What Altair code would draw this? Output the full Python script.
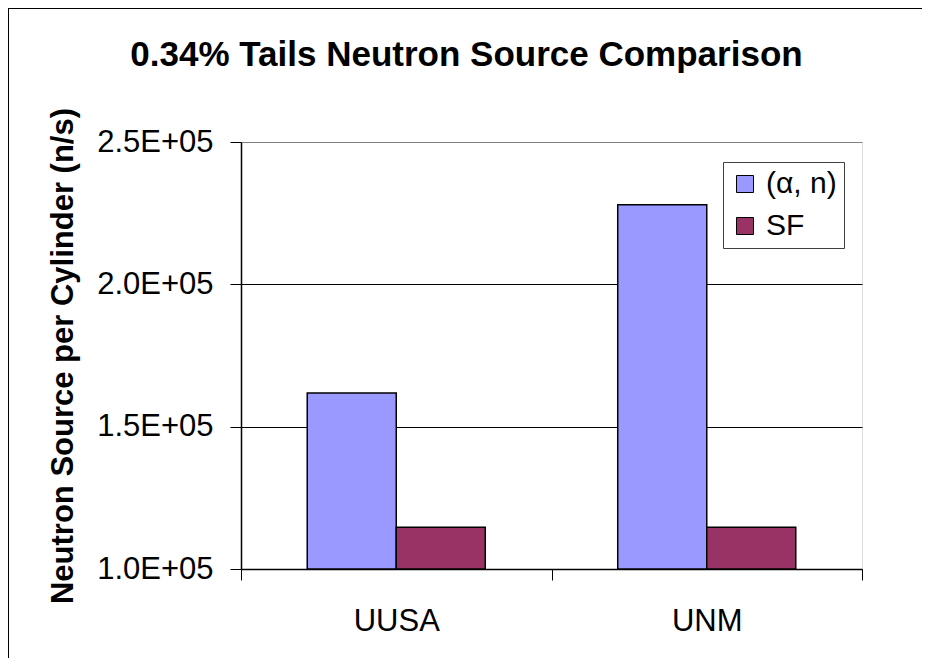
import altair as alt
import pandas as pd

sites = ["UUSA", "UNM"]
series = ["(α, n)", "SF"]
alpha_n = [161800, 228000]
sf = [114650, 114650]
colors = ["#9999FF", "#993366"]
y_ticks = [100000, 150000, 200000, 250000]

rows = []
for i, s in enumerate(sites):
    rows.append({"site": s, "series": series[0], "value": alpha_n[i]})
    rows.append({"site": s, "series": series[1], "value": sf[i]})
df = pd.DataFrame(rows)

FONT = "Liberation Sans"
W, H = 621, 427
PL, PT, PR, PB = 233, 134, 60, 89

bars = alt.Chart(df).mark_bar(stroke="black", strokeWidth=1.5).encode(
    x=alt.X(
        "site:N",
        sort=sites,
        scale=alt.Scale(paddingInner=0, paddingOuter=0),
        axis=alt.Axis(
            title=None, labelAngle=0, tickBand="extent", labelFontSize=31,
            labelFont=FONT, labelColor="black", labelPadding=26, tickSize=11,
            tickColor="black", domainColor="black", domainWidth=1.5, grid=False,
        ),
    ),
    xOffset=alt.XOffset(
        "series:N", sort=series,
        scale=alt.Scale(paddingInner=0, paddingOuter=0.744),
    ),
    y=alt.Y(
        "value:Q",
        scale=alt.Scale(domain=[100000, 250000], nice=False, zero=False),
        axis=alt.Axis(
            values=y_ticks,
            labelExpr="format(datum.value / 100000, '.1f') + 'E+05'",
            title="Neutron Source per Cylinder (n/s)",
            titleFont=FONT, titleFontSize=31, titleFontWeight="bold",
            titleColor="black", titlePadding=17,
            labelFont=FONT, labelFontSize=31, labelColor="black",
            labelPadding=17, tickSize=11, tickColor="black",
            domainColor="black", domainWidth=1.5,
            grid=True,
            gridColor=alt.condition("datum.value >= 250000", alt.value("#808080"), alt.value("black")),
            gridWidth=1,
        ),
    ),
    y2=alt.datum(100000),
    color=alt.Color(
        "series:N", sort=series,
        scale=alt.Scale(domain=series, range=colors),
        legend=alt.Legend(
            title=None, orient="none", legendX=482, legendY=20,
            labelFont=FONT, labelFontSize=30, labelColor="black",
            symbolType="square", symbolSize=289, symbolStrokeColor="black",
            symbolStrokeWidth=1, labelOffset=6, rowPadding=12,
            padding=7, strokeColor="#404040", fillColor="white",
        ),
    ),
)

border = alt.Chart(alt.Data(values=[{"k": 1}])).mark_rule(color="black", strokeWidth=1).encode(
    x=alt.value(-PL + 0.5), y=alt.value(-PT + 0.5), y2=alt.value(H + PB)
)
border_top = alt.Chart(alt.Data(values=[{"k": 1}])).mark_rule(color="black", strokeWidth=1).encode(
    x=alt.value(-PL), x2=alt.value(W + PR), y=alt.value(-PT + 0.5)
)

chart = alt.layer(bars, border, border_top).properties(
    width=W, height=H,
    autosize=alt.AutoSizeParams(type="none"),
    padding={"left": PL, "top": PT, "right": PR, "bottom": PB},
    title=alt.TitleParams(
        "0.34% Tails Neutron Source Comparison",
        font=FONT, fontSize=35, fontWeight="bold", color="black",
        anchor="middle", frame="group", baseline="alphabetic",
        dx=-85, dy=93, offset=0,
    ),
).configure_view(stroke="#808080", strokeWidth=1.5).configure(background="white")

chart.save("out.html", embed_options={"renderer": "svg", "actions": False})
